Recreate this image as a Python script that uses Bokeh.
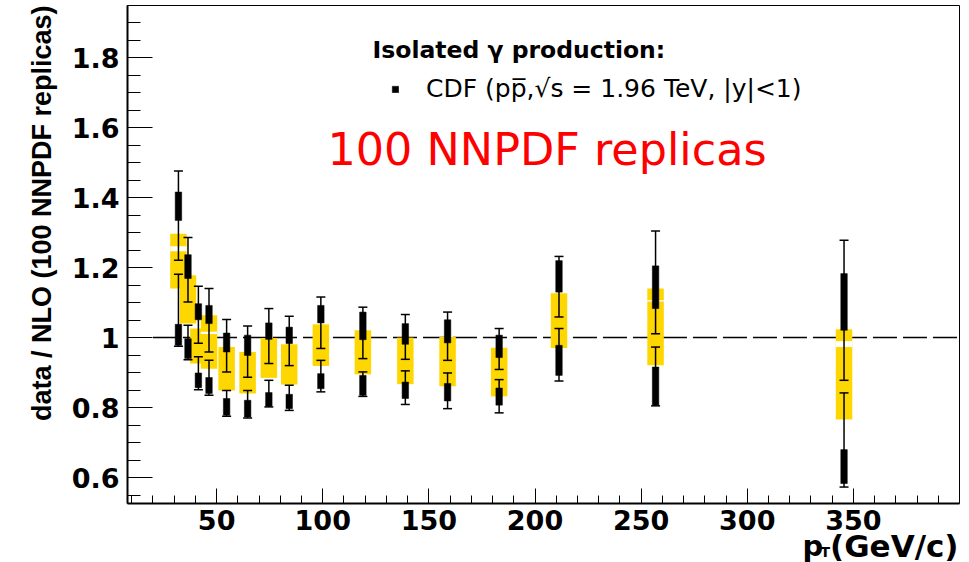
from math import pi

import numpy as np
from bokeh.plotting import figure
from bokeh.models import (ColumnDataSource, FixedTicker, Label, Legend,
                          LegendItem, CustomJSTickFormatter, Range1d)
from bokeh.embed import file_html
from bokeh.resources import INLINE

# ---------------------------------------------------------------------------
# CDF isolated-photon data / NLO ratio for 100 NNPDF replicas
# ---------------------------------------------------------------------------
pt = [32.0, 36.5, 41.4, 46.4, 54.7, 64.6, 74.6, 84.2,
      99.1, 118.9, 138.9, 158.8, 183.1, 211.3, 256.8, 345.6]

# yellow uncertainty band per bin
band_lo = [1.140, 1.040, 0.926, 0.911, 0.849, 0.840, 0.885, 0.866,
           0.919, 0.895, 0.867, 0.861, 0.832, 0.970, 0.921, 0.766]
band_hi = [1.297, 1.178, 1.026, 1.064, 0.973, 0.959, 0.999, 0.981,
           1.038, 1.021, 1.000, 1.002, 0.971, 1.127, 1.140, 1.024]

# thin white split inside a few of the bands
split_pt = [32.0, 46.4, 256.8, 345.6]
split_lo = [1.247, 1.010, 1.103, 0.973]
split_hi = [1.261, 1.017, 1.107, 0.990]

# upper group of replica points: marker span and error-bar span
up_lo = [1.335, 1.169, 1.051, 1.040, 0.959, 0.949, 0.995, 0.983,
         1.042, 0.994, 0.981, 0.985, 0.943, 1.130, 1.083, 1.021]
up_hi = [1.416, 1.237, 1.097, 1.092, 1.013, 1.007, 1.042, 1.030,
         1.092, 1.073, 1.040, 1.051, 1.007, 1.220, 1.205, 1.183]
up_err_lo = [1.221, 1.102, 0.984, 0.959, 0.902, 0.887, 0.926, 0.920,
             0.969, 0.940, 0.938, 0.935, 0.909, 1.059, 1.011, 0.878]
up_err_hi = [1.476, 1.286, 1.147, 1.140, 1.052, 1.033, 1.083, 1.061,
             1.116, 1.087, 1.066, 1.073, 1.026, 1.232, 1.305, 1.278]

# lower group of replica points
lo_lo = [0.978, 0.940, 0.857, 0.840, 0.778, 0.773, 0.804, 0.797,
         0.854, 0.835, 0.826, 0.819, 0.807, 0.892, 0.807, 0.583]
lo_hi = [1.038, 0.997, 0.899, 0.886, 0.826, 0.821, 0.843, 0.838,
         0.897, 0.892, 0.873, 0.869, 0.856, 0.978, 0.916, 0.680]
lo_err_lo = [0.975, 0.937, 0.851, 0.835, 0.775, 0.770, 0.802, 0.792,
             0.845, 0.832, 0.809, 0.797, 0.785, 0.876, 0.805, 0.573]
lo_err_hi = [1.181, 1.035, 0.945, 0.935, 0.849, 0.849, 0.878, 0.864,
             0.935, 0.902, 0.905, 0.899, 0.880, 1.026, 0.973, 0.842]

# unit-ratio reference line
ref_x = [20.0, 400.0]
ref_y = [1.0, 1.0]

x_major = [50, 100, 150, 200, 250, 300, 350]
x_minor = list(range(10, 400, 10))
y_major = [0.6, 0.8, 1.0, 1.2, 1.4, 1.6, 1.8]
y_minor = [round(0.55 + 0.05 * i, 2) for i in range(29)]

# axis box (data units)
X_LO, X_HI = 8.0, 400.0
Y_LO, Y_HI = 0.526, 1.949

# ---------------------------------------------------------------------------
W, H = 969, 562
BOX_L, BOX_R, BOX_T, BOX_B = 127, 959, 5, 503   # axis box in canvas pixels
kx = (BOX_R - BOX_L) / (X_HI - X_LO)
ky = (BOX_B - BOX_T) / (Y_HI - Y_LO)
x_range = Range1d(X_LO - BOX_L / kx, X_HI + (W - BOX_R) / kx)
y_range = Range1d(Y_LO - (H - BOX_B) / ky, Y_HI + BOX_T / ky)


def sy(y_top):
    """canvas y (from top) -> screen units used by labels (from bottom)"""
    return H - y_top


a = lambda v: np.asarray(v, dtype=float)
src = ColumnDataSource(dict(
    pt=a(pt),
    band_mid=(a(band_lo) + a(band_hi)) / 2, band_h=a(band_hi) - a(band_lo),
    up_mid=(a(up_lo) + a(up_hi)) / 2, up_h=a(up_hi) - a(up_lo),
    lo_mid=(a(lo_lo) + a(lo_hi)) / 2, lo_h=a(lo_hi) - a(lo_lo),
    up_err_lo=a(up_err_lo), up_err_hi=a(up_err_hi),
    lo_err_lo=a(lo_err_lo), lo_err_hi=a(lo_err_hi),
))
split_src = ColumnDataSource(dict(
    pt=a(split_pt), mid=(a(split_lo) + a(split_hi)) / 2,
    h=a(split_hi) - a(split_lo)))

p = figure(width=W, height=H, x_range=x_range, y_range=y_range,
           output_backend="svg", toolbar_location=None,
           min_border=0, min_border_left=0, min_border_right=0,
           min_border_top=0, min_border_bottom=0)
p.background_fill_color = "white"
p.border_fill_color = "white"
p.outline_line_color = None
p.grid.visible = False

# frame box (top and right edges)
p.quad(left=[X_LO], right=[X_HI], bottom=[Y_LO], top=[Y_HI],
       fill_color=None, line_color="black", line_width=1)

TICK_FONT = "DejaVu Sans"
for ax in (p.xaxis[0], p.yaxis[0]):
    ax.axis_line_width = 2
    ax.axis_line_color = "black"
    ax.major_tick_line_color = "black"
    ax.minor_tick_line_color = "black"
    ax.major_tick_out = 0
    ax.minor_tick_out = 0
    ax.major_label_text_font = TICK_FONT
    ax.major_label_text_font_style = "bold"
    ax.major_label_text_font_size = "27px"
    ax.major_label_text_color = "black"

p.xaxis.fixed_location = Y_LO
p.xaxis.bounds = (X_LO, X_HI)
p.xaxis.ticker = FixedTicker(ticks=x_major, minor_ticks=x_minor)
p.xaxis.major_tick_in = 15
p.xaxis.minor_tick_in = 8
p.xaxis.major_label_standoff = 6

p.yaxis.fixed_location = X_LO
p.yaxis.bounds = (Y_LO, Y_HI)
p.yaxis.ticker = FixedTicker(ticks=y_major, minor_ticks=y_minor)
p.yaxis.major_tick_in = 25
p.yaxis.minor_tick_in = 13
p.yaxis.major_label_standoff = 8
p.yaxis.formatter = CustomJSTickFormatter(
    code="return tick.toFixed(1).replace(/\\.0$/, '');")

# reference line at ratio 1
p.line(ref_x, ref_y, line_color="black", line_width=1.5, line_dash="24 6")

# yellow bands
p.rect(x="pt", y="band_mid", width=16.5, height="band_h", width_units="screen",
       source=src, fill_color="#ffd700", line_color=None)
p.rect(x="pt", y="mid", width=16.5, height="h", width_units="screen",
       source=split_src, fill_color="white", line_color=None)

# replica error bars
for lo_col, hi_col in (("up_err_lo", "up_err_hi"), ("lo_err_lo", "lo_err_hi")):
    p.segment(x0="pt", y0=lo_col, x1="pt", y1=hi_col, source=src,
              line_color="black", line_width=1.5)
    for col in (lo_col, hi_col):
        p.scatter(x="pt", y=col, source=src, marker="dash", size=9,
                  line_color="black", line_width=1.5)

# replica markers
r_up = p.rect(x="pt", y="up_mid", width=6.5, height="up_h", width_units="screen",
              source=src, fill_color="black", line_color="black", line_width=0.5)
p.rect(x="pt", y="lo_mid", width=6.5, height="lo_h", width_units="screen",
       source=src, fill_color="black", line_color="black", line_width=0.5)

# legend
legend = Legend(items=[LegendItem(label="CDF (pp\u0305,\u221As = 1.96 TeV, |y|<1)",
                                  renderers=[r_up])],
                location=(391, sy(103)), orientation="vertical",
                border_line_color=None, background_fill_alpha=0,
                padding=0, margin=0, spacing=0,
                glyph_width=8, glyph_height=8, label_standoff=27,
                label_text_font="DejaVu Sans", label_text_font_size="25px",
                label_text_color="black")
p.add_layout(legend)


def text(txt, x, y_top, size, bold=False, font="DejaVu Sans", color="black",
         align="left", angle=0.0):
    p.add_layout(Label(x=x, y=sy(y_top), x_units="screen", y_units="screen",
                       text=txt, text_font=font,
                       text_font_style="bold" if bold else "normal",
                       text_font_size=size, text_color=color,
                       text_align=align, text_baseline="alphabetic",
                       angle=angle))


text("Isolated \u03b3 production:", 372, 49, "23.5px", bold=True)
text("100 NNPDF replicas", 327, 149, "44.5px", color="#ff0000")

# axis titles
text("data / NLO (100 NNPDF replicas)", 41, 5, "27px", bold=True,
     font="Liberation Sans", align="right", angle=pi / 2)
text("p", 802, 545, "29px", bold=True)
text("T", 820, 551, "14px", bold=True)
text("(GeV/c)", 958, 545, "31px", bold=True, align="right")

open("out.html", "w").write(file_html(p, INLINE))
